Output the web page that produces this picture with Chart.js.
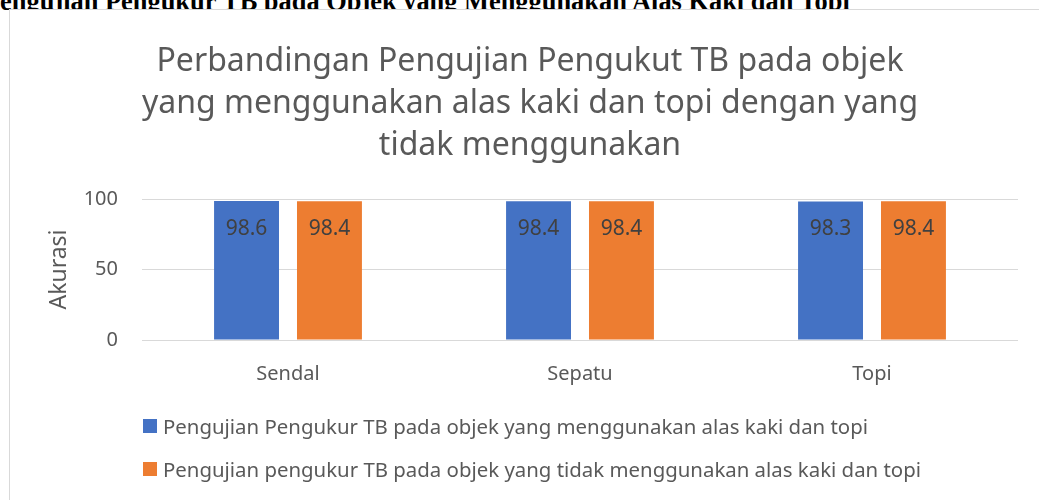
<!DOCTYPE html>
<html>
<head>
<meta charset="utf-8">
<script src="https://cdn.jsdelivr.net/npm/chart.js@4"></script>
<style>
  html, body { margin: 0; padding: 0; background: #fff; overflow: hidden; width: 1039px; height: 500px; }
  #caption {
    position: absolute; left: -16px; top: -12px; white-space: nowrap;
    font-family: "Liberation Serif", "Times New Roman", serif; font-weight: bold;
    font-size: 26.4px; line-height: 26px; color: #000;
  }
  #frame {
    position: absolute; left: 9px; top: 9px; width: 1100px; height: 560px;
    border: 1px solid #d9d9d9; background: #fff;
  }
  #wrap { position: absolute; left: 0; top: 0; width: 1040px; height: 414px; }
  #legend {
    position: absolute; left: 133px; top: 394px;
    font-family: "Noto Sans", sans-serif; font-size: 20.4px; color: #595959;
  }
  .item { display: flex; align-items: center; height: 43px; }
  .box { width: 14px; height: 14px; margin-right: 6px; }
</style>
</head>
<body>
<div id="caption">Pengujian Pengukur TB pada Objek yang Menggunakan Alas Kaki dan Topi</div>
<div id="frame">
  <div id="wrap"><canvas id="chart"></canvas></div>
  <div id="legend"></div>
</div>
<script>
// data
const categories = ['Sendal', 'Sepatu', 'Topi'];
const withItems = [98.6, 98.4, 98.3];
const withoutItems = [98.4, 98.4, 98.4];
const yTicks = [0, 50, 100];
const seriesNames = [
  'Pengujian Pengukur TB pada objek yang menggunakan alas kaki dan topi',
  'Pengujian pengukur TB pada objek yang tidak menggunakan alas kaki dan topi'
];
const titleLines = [
  'Perbandingan Pengujian Pengukut TB pada objek',
  'yang menggunakan alas kaki dan topi dengan yang',
  'tidak menggunakan'
];

const blue = '#4472C4';
const orange = '#ED7D31';
const font = '"Noto Sans", sans-serif';

// value labels inside the top of each bar
const barLabels = {
  id: 'barLabels',
  afterDatasetsDraw(chart) {
    const ctx = chart.ctx;
    ctx.save();
    ctx.font = '21px ' + font;
    ctx.fillStyle = '#404040';
    ctx.textAlign = 'center';
    ctx.textBaseline = 'middle';
    chart.data.datasets.forEach((ds, i) => {
      chart.getDatasetMeta(i).data.forEach((bar, j) => {
        ctx.fillText(ds.data[j].toFixed(1), bar.x, bar.y + 28);
      });
    });
    ctx.restore();
  }
};

const chart = new Chart(document.getElementById('chart'), {
  type: 'bar',
  data: {
    labels: categories,
    datasets: [
      { label: seriesNames[0], data: withItems, backgroundColor: blue },
      { label: seriesNames[1], data: withoutItems, backgroundColor: orange }
    ]
  },
  options: {
    responsive: true,
    maintainAspectRatio: false,
    animation: false,
    categoryPercentage: 0.568,
    barPercentage: 0.783,
    layout: { padding: { bottom: 16 } },
    plugins: {
      legend: { display: false },
      tooltip: { enabled: false },
      title: {
        display: true,
        text: titleLines,
        color: '#595959',
        font: { family: font, size: 32, weight: 'normal', lineHeight: 1.3125 },
        padding: { top: 31, bottom: 32 }
      }
    },
    scales: {
      x: {
        grid: { display: false, drawTicks: false },
        border: { display: false },
        ticks: { color: '#595959', font: { family: font, size: 20 }, padding: 22 }
      },
      y: {
        min: 0, max: 100,
        afterBuildTicks: s => { s.ticks = yTicks.map(v => ({ value: v })); },
        afterFit: s => { s.width = 132; },
        grid: { color: '#d9d9d9', lineWidth: 1, drawTicks: false },
        border: { display: false },
        ticks: { color: '#595959', font: { family: font, size: 20 }, padding: 24 },
        title: {
          display: true, text: 'Akurasi', color: '#595959',
          font: { family: font, size: 23, lineHeight: 1.2 },
          padding: { top: 36, bottom: 0 }
        }
      },
      // empty right-hand spacer so the plot ends where the original does
      yRight: {
        position: 'right', min: 0, max: 100,
        afterFit: s => { s.width = 32; },
        grid: { display: false, drawTicks: false },
        border: { display: false },
        ticks: { display: false }
      }
    }
  },
  plugins: [barLabels]
});

// legend, left aligned in two rows like the original
const legend = document.getElementById('legend');
chart.data.datasets.forEach(ds => {
  const row = document.createElement('div');
  row.className = 'item';
  row.innerHTML = '<span class="box" style="background:' + ds.backgroundColor + '"></span><span>' + ds.label + '</span>';
  legend.appendChild(row);
});
</script>
</body>
</html>
